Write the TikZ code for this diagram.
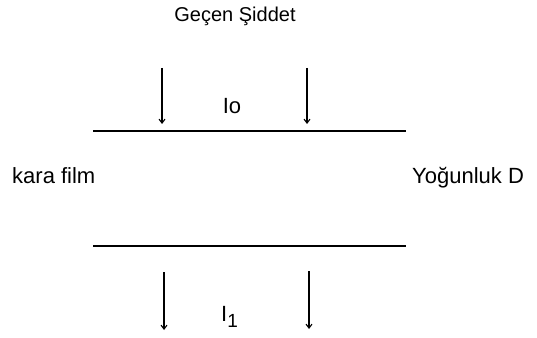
\documentclass[tikz,border=0pt]{standalone}
\usepackage{fontspec}
\setmainfont{Liberation Sans}
\usetikzlibrary{arrows.meta}
\tikzset{
  lbl/.style={font=\fontsize{22}{26}\selectfont, inner sep=0pt},
  toplbl/.style={font=\fontsize{20}{24}\selectfont, inner sep=0pt},
  filmline/.style={line width=1.6pt},
  beam/.style={line width=1.1pt,-{Straight Barb[length=4pt,width=6pt]}}
}
\begin{document}
\begin{tikzpicture}[x=1pt,y=1pt]
            \useasboundingbox (0,0) rectangle (537,337);
            % film edges
            \coordinate (tl) at (93,206);
            \coordinate (tr) at (406,206);
            \coordinate (bl) at (93,91);
            \coordinate (br) at (406,91);
            \draw[filmline] (tl) -- (tr);
            \draw[filmline] (bl) -- (br);
            % incoming beams
            \coordinate (a1) at (162,269);
            \coordinate (a1e) at (162,213);
            \coordinate (a2) at (307,269);
            \coordinate (a2e) at (307,213);
            \draw[beam] (a1) -- (a1e);
            \draw[beam] (a2) -- (a2e);
            % outgoing beams
            \coordinate (b1) at (164,65);
            \coordinate (b1e) at (164,7);
            \coordinate (b2) at (309,66);
            \coordinate (b2e) at (309,8);
            \draw[beam] (b1) -- (b1e);
            \draw[beam] (b2) -- (b2e);
            % labels
            \node[toplbl] (gecen) at (235,321) {Geçen Şiddet};
            \node[lbl] (io) at (232,231) {Io};
            \node[lbl,anchor=base west] (kara) at (12,153) {kara film};
            \node[lbl,anchor=base west] (yog) at (412,153) {Yoğunluk D};
            \node[lbl,anchor=north west] (i1) at (221,31) {I\textsubscript{\fontsize{19}{22}\selectfont 1}};
         \end{tikzpicture}
\end{document}
